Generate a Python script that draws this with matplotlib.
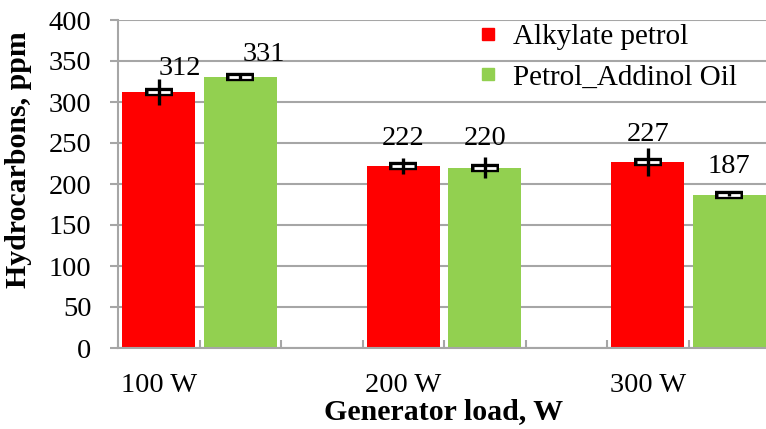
import matplotlib
matplotlib.use("Agg")
import matplotlib.pyplot as plt
from matplotlib.lines import Line2D
import numpy as np

categories = ["100 W", "200 W", "300 W"]
series_names = ["Alkylate petrol", "Petrol_Addinol Oil"]
alkylate = [312, 222, 227]
addinol = [331, 220, 187]
alkylate_err = [16, 10, 17]
addinol_err = [3, 13, 2]
y_ticks = [0, 50, 100, 150, 200, 250, 300, 350, 400]

# label nudges (style): horizontal shift in slot units, vertical lift in data units
alk_lbl_dx = [0.26, 0.0, 0.0]
add_lbl_dx = [0.29, 0.0, 0.0]
alk_lbl_lift = [29, 33, 33]
add_lbl_lift = [27, 35, 34]

plt.rcParams['font.family'] = ['Liberation Serif', 'DejaVu Serif']

fig = plt.figure(figsize=(7.66, 4.29), dpi=100)
ax = fig.add_axes([118/766, 81/429, 652/766, 328/429])

red = "#FF0000"
green = "#92D050"
grid_c = "#A6A6A6"

# slot layout: each group occupies 3 category slots (red, green, empty)
x_red = np.arange(len(categories)) * 3
x_green = x_red + 1
w = 0.9

ax.bar(x_red, alkylate, width=w, color=red, zorder=2)
ax.bar(x_green, addinol, width=w, color=green, zorder=2)

for xs, vals, errs in [(x_red, alkylate, alkylate_err), (x_green, addinol, addinol_err)]:
    ax.plot(xs, vals, linestyle='none', marker='_', markersize=20, markeredgewidth=6.0,
            color='black', zorder=3)
    ax.plot(xs, vals, linestyle='none', marker='_', markersize=15.5, markeredgewidth=2.0,
            color='white', zorder=4)
    ax.errorbar(xs, vals, yerr=errs, fmt='none', ecolor='black', elinewidth=2.4,
                capsize=0, zorder=5)

fs = 20.5
for i in range(len(categories)):
    ax.text(x_red[i] + alk_lbl_dx[i], alkylate[i] + alk_lbl_lift[i], str(alkylate[i]),
            ha='center', va='center', fontsize=fs, zorder=6)
    ax.text(x_green[i] + add_lbl_dx[i], addinol[i] + add_lbl_lift[i], str(addinol[i]),
            ha='center', va='center', fontsize=fs, zorder=6)

ax.set_ylim(0, 400)
ax.set_xlim(-0.5, 7.5)
ax.set_yticks(y_ticks)
ax.set_yticklabels([str(t) for t in y_ticks], fontsize=fs)
ax.yaxis.grid(True, color=grid_c, linewidth=1.5, zorder=0)
ax.set_axisbelow(True)

ax.set_xticks(np.arange(-0.5, 8.0, 1.0), minor=False)
ax.set_xticklabels([])
ax.set_xticks(x_red, minor=True)
ax.set_xticklabels(categories, minor=True, fontsize=fs)
ax.tick_params(axis='x', which='major', direction='in', length=6, width=1.5, color=grid_c)
ax.tick_params(axis='x', which='minor', length=0, pad=18)
ax.tick_params(axis='y', direction='out', length=6, width=1.5, color=grid_c, pad=13)

for s in ['top', 'right']:
    ax.spines[s].set_visible(False)
for s in ['left', 'bottom']:
    ax.spines[s].set_color(grid_c)
    ax.spines[s].set_linewidth(1.5)

ax.set_ylabel("Hydrocarbons, ppm", fontsize=21.5, fontweight='bold')
ax.yaxis.set_label_coords(-86/652, (348 - 160) / 328)
ax.set_xlabel("Generator load, W", fontsize=21.5, fontweight='bold', labelpad=0)

handles = [Line2D([], [], linestyle='none', marker='s', markersize=9, color=red),
           Line2D([], [], linestyle='none', marker='s', markersize=9, color=green)]
ax.legend(handles, series_names, loc='upper left', bbox_to_anchor=(478/766, 1 - 23.5/429),
          bbox_transform=fig.transFigure, frameon=False, fontsize=21, handlelength=0.7,
          handletextpad=0.5, labelspacing=0.49, borderpad=0, borderaxespad=0)

fig.savefig("out.png", dpi=100)
